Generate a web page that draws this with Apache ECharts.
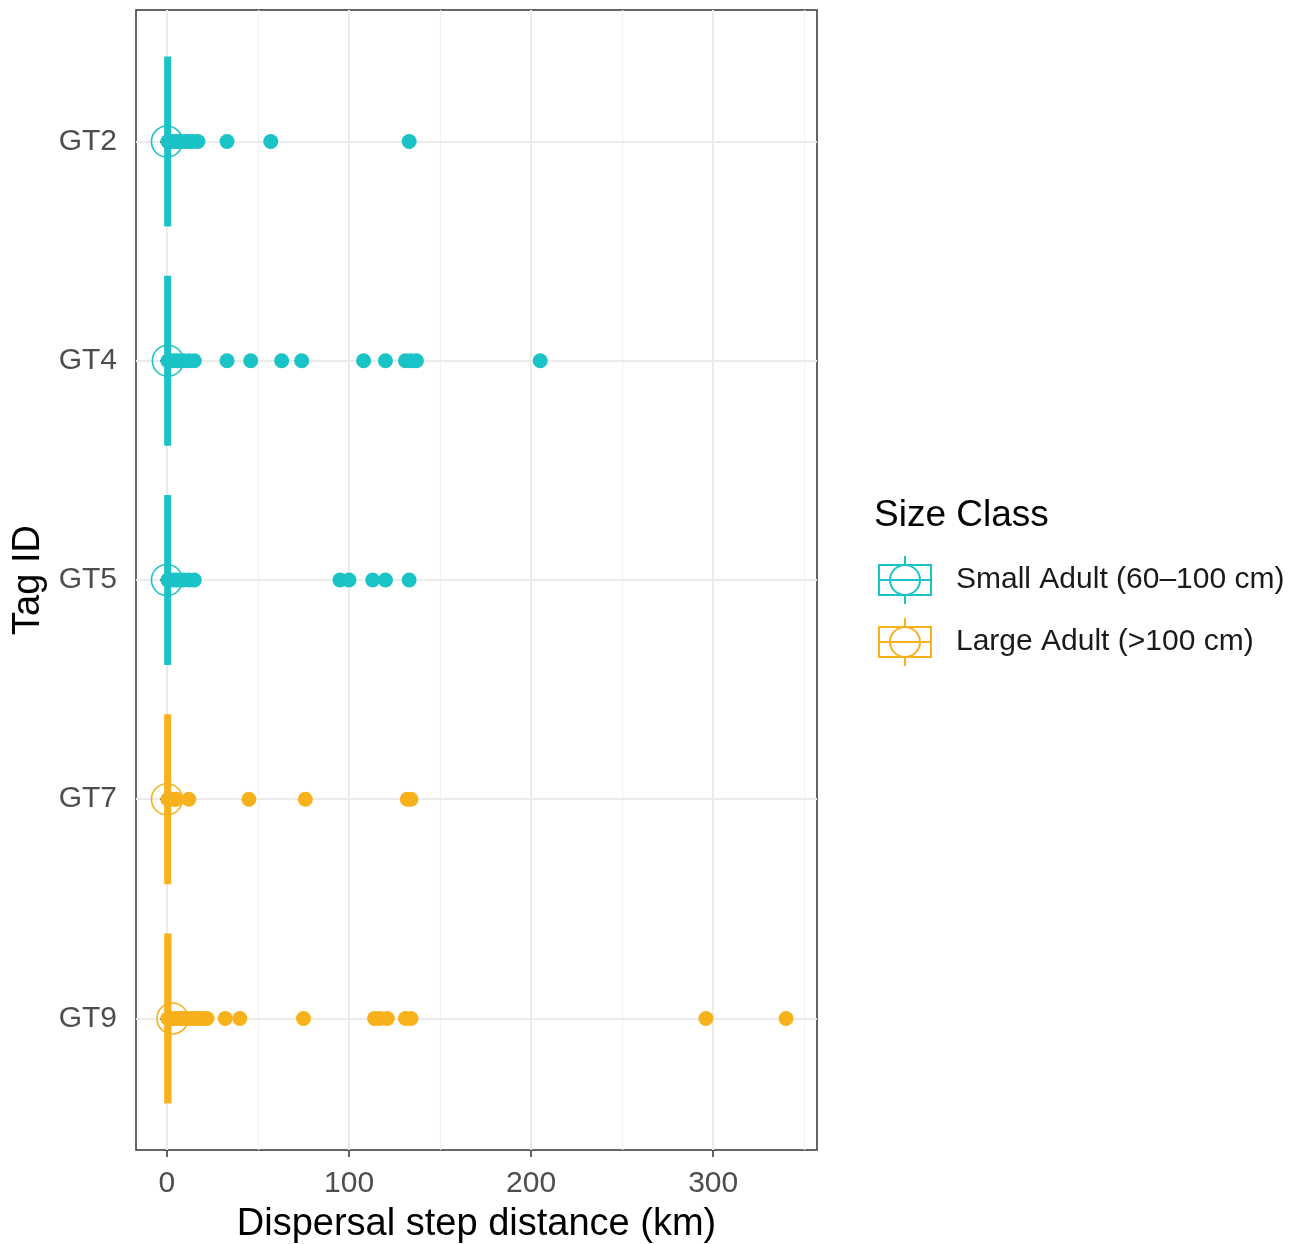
<!DOCTYPE html>
<html><head><meta charset="utf-8">
<script src="https://cdn.jsdelivr.net/npm/echarts@6/dist/echarts.min.js"></script>
<style>html,body{margin:0;padding:0;background:#fff}#chart{width:1310px;height:1244px}</style>
</head><body><div id="chart"></div>
<script>
// ---------- data ----------
const tagIds = ['GT2', 'GT4', 'GT5', 'GT7', 'GT9'];
const smallLabel = 'Small Adult (60–100 cm)';
const largeLabel = 'Large Adult (>100 cm)';
const tagClass = [smallLabel, smallLabel, smallLabel, largeLabel, largeLabel];

// dispersal step distances (km) per tag
const gt2Steps = [0.5, 2, 4, 6, 8, 10, 12, 14, 17, 33, 57, 133];
const gt4Steps = [0.5, 2, 4, 6, 9, 12, 15, 33, 46, 63, 74, 108, 120, 131, 134, 137, 205];
const gt5Steps = [0.5, 2, 4, 6, 9, 12, 15, 95, 100, 113, 120, 133];
const gt7Steps = [0.5, 2, 4, 5, 12, 45, 76, 132, 134];
const gt9Steps = [0.5, 2, 4, 6, 8, 10, 12, 14, 16, 18, 20, 22, 32, 40, 75, 114, 117, 121, 131, 134, 296, 340];

// box statistics [min, Q1, median, Q3, max] (km)
const gt2Box = [0, 0, 0.3, 0.8, 0.8];
const gt4Box = [0, 0, 0.3, 0.8, 0.8];
const gt5Box = [0, 0, 0.3, 0.8, 0.8];
const gt7Box = [0, 0, 0.3, 0.8, 0.8];
const gt9Box = [0, 0, 0.4, 1, 1];

// hollow centre marker value per tag (km)
const centerValues = [0, 0.5, 0, 0, 3];

const xMajorBreaks = [0, 100, 200, 300];
const xMinorBreaks = [50, 150, 250, 350];
const xLimits = [-17, 357];
const yLimits = [0.4, 5.6];

// ---------- build ----------
const stepsByTag = [gt2Steps, gt4Steps, gt5Steps, gt7Steps, gt9Steps];
const boxByTag = [gt2Box, gt4Box, gt5Box, gt7Box, gt9Box];
const classColor = {};
classColor[smallLabel] = '#1AC3C5';
classColor[largeLabel] = '#F7B11A';

const FONT = "'Liberation Sans', Arial, Helvetica, sans-serif";
const GRID_L = 136, GRID_R = 493, GRID_T = 10, GRID_B = 94;
const bandPx = (1244 - GRID_T - GRID_B) / (yLimits[1] - yLimits[0]);

function pointsFor(cls) {
  const out = [];
  tagIds.forEach((t, i) => {
    if (tagClass[i] !== cls) return;
    stepsByTag[i].forEach(v => out.push([v, i]));
  });
  return out;
}

const gridLines = [];
xMinorBreaks.forEach(v => gridLines.push({ xAxis: v, lineStyle: { color: '#F2F2F2', width: 1.2, type: 'solid' } }));
xMajorBreaks.forEach(v => gridLines.push({ xAxis: v, lineStyle: { color: '#EBEBEB', width: 2, type: 'solid' } }));
tagIds.forEach((t, i) => gridLines.push({ yAxis: i + 1, lineStyle: { color: '#EBEBEB', width: 2, type: 'solid' } }));

const iconPath = 'path://M0,9 L52,9 L52,39 L0,39 Z M26,0 L26,9 M26,39 L26,48 M0,24 L52,24 M11,24 A15,15 0 1,0 41,24 A15,15 0 1,0 11,24';

function renderBox(params, api) {
  const ci = api.value(0);
  const lo = api.value(1), q1 = api.value(2), med = api.value(3), q3 = api.value(4), hi = api.value(5);
  const h = api.size([0, 1])[1] * 0.75;
  const pLo = api.coord([lo, ci]), pQ1 = api.coord([q1, ci]), pMed = api.coord([med, ci]);
  const pQ3 = api.coord([q3, ci]), pHi = api.coord([hi, ci]);
  const color = classColor[tagClass[ci]];
  const lw = 5.5;
  return {
    type: 'group',
    children: [
      { type: 'line', shape: { x1: pLo[0], y1: pLo[1], x2: pQ1[0], y2: pQ1[1] }, style: { stroke: color, lineWidth: 1.5 } },
      { type: 'line', shape: { x1: pQ3[0], y1: pQ3[1], x2: pHi[0], y2: pHi[1] }, style: { stroke: color, lineWidth: 1.5 } },
      { type: 'rect', shape: { x: pQ1[0], y: pQ1[1] - h / 2, width: Math.max(pQ3[0] - pQ1[0], 0), height: h },
        style: { fill: color, stroke: color, lineWidth: lw } },
      { type: 'line', shape: { x1: pMed[0], y1: pMed[1] - h / 2, x2: pMed[0], y2: pMed[1] + h / 2 },
        style: { stroke: color, lineWidth: lw } }
    ]
  };
}

const option = {
  animation: false,
  backgroundColor: '#ffffff',
  textStyle: { fontFamily: FONT },
  title: {
    text: 'Size Class', left: 874, top: 497, padding: 0,
    textStyle: { fontFamily: FONT, fontSize: 37, fontWeight: 'normal', color: '#000000' }
  },
  legend: {
    orient: 'vertical', left: 878, top: 555, padding: 0,
    itemWidth: 52, itemHeight: 48, itemGap: 12,
    selectedMode: false,
    textStyle: { fontFamily: FONT, fontSize: 30, color: '#1A1A1A', padding: [0, 0, 0, 20] },
    data: [smallLabel, largeLabel].map(n => ({
      name: n, icon: iconPath,
      itemStyle: { color: 'rgba(0,0,0,0)', borderColor: classColor[n], borderWidth: 2 }
    }))
  },
  grid: [
    { left: GRID_L, right: GRID_R, top: GRID_T, bottom: GRID_B, show: true, borderColor: '#333333', borderWidth: 1.5, backgroundColor: 'transparent', containLabel: false, outerBoundsMode: 'none' },
    { left: GRID_L, right: GRID_R, top: GRID_T + 0.1 * bandPx, bottom: GRID_B + 0.1 * bandPx, show: false, containLabel: false, outerBoundsMode: 'none' }
  ],
  xAxis: [
    {
      type: 'value', gridIndex: 0, min: xLimits[0], max: xLimits[1],
      name: 'Dispersal step distance (km)', nameLocation: 'middle', nameGap: 56,
      nameTextStyle: { fontFamily: FONT, fontSize: 38, color: '#000000' },
      axisLine: { show: false },
      axisTick: { show: true, customValues: xMajorBreaks, length: 7, lineStyle: { color: '#333333', width: 1.5 } },
      axisLabel: { show: true, customValues: xMajorBreaks, margin: 19, fontFamily: FONT, fontSize: 30, color: '#4D4D4D' },
      splitLine: { show: false }
    },
    {
      type: 'value', gridIndex: 1, min: xLimits[0], max: xLimits[1], show: false,
      splitLine: { show: false }
    }
  ],
  yAxis: [
    {
      type: 'value', gridIndex: 0, min: yLimits[0], max: yLimits[1], inverse: true, show: false,
      splitLine: { show: false }
    },
    {
      type: 'category', gridIndex: 1, data: tagIds, inverse: true,
      name: 'Tag ID', nameLocation: 'middle', nameGap: 85,
      nameTextStyle: { fontFamily: FONT, fontSize: 38, color: '#000000' },
      axisLine: { show: false },
      axisTick: { show: true, alignWithLabel: true, length: 7, lineStyle: { color: '#333333', width: 1.5 } },
      axisLabel: { margin: 19, fontFamily: FONT, fontSize: 30, color: '#4D4D4D' },
      splitLine: { show: false }
    }
  ],
  series: [
    {
      type: 'scatter', name: 'grid', xAxisIndex: 0, yAxisIndex: 0, z: 0, silent: true,
      data: [[0, 1]], symbolSize: 0, itemStyle: { opacity: 0 },
      markLine: { z: 0, silent: true, symbol: ['none', 'none'], label: { show: false }, animation: false, data: gridLines }
    },
    {
      type: 'scatter', name: 'centre', xAxisIndex: 1, yAxisIndex: 1, z: 10, silent: true,
      symbol: 'circle', symbolSize: 31,
      data: centerValues.map((v, i) => ({
        value: [v, i],
        itemStyle: { color: 'rgba(0,0,0,0)', borderColor: classColor[tagClass[i]], borderWidth: 1.6, opacity: 1 }
      }))
    },
    {
      type: 'custom', name: 'box', xAxisIndex: 1, yAxisIndex: 1, z: 11, silent: true,
      renderItem: renderBox,
      encode: { x: [1, 2, 3, 4, 5], y: 0 },
      data: boxByTag.map((b, i) => [i].concat(b))
    },
    {
      type: 'scatter', name: smallLabel, xAxisIndex: 1, yAxisIndex: 1, z: 12, silent: true,
      symbol: 'circle', symbolSize: 15, itemStyle: { color: classColor[smallLabel], opacity: 1 },
      data: pointsFor(smallLabel)
    },
    {
      type: 'scatter', name: largeLabel, xAxisIndex: 1, yAxisIndex: 1, z: 12, silent: true,
      symbol: 'circle', symbolSize: 15, itemStyle: { color: classColor[largeLabel], opacity: 1 },
      data: pointsFor(largeLabel)
    }
  ]
};

const chart = echarts.init(document.getElementById('chart'), null, { renderer: 'canvas' });
chart.setOption(option);
</script>
</body></html>
